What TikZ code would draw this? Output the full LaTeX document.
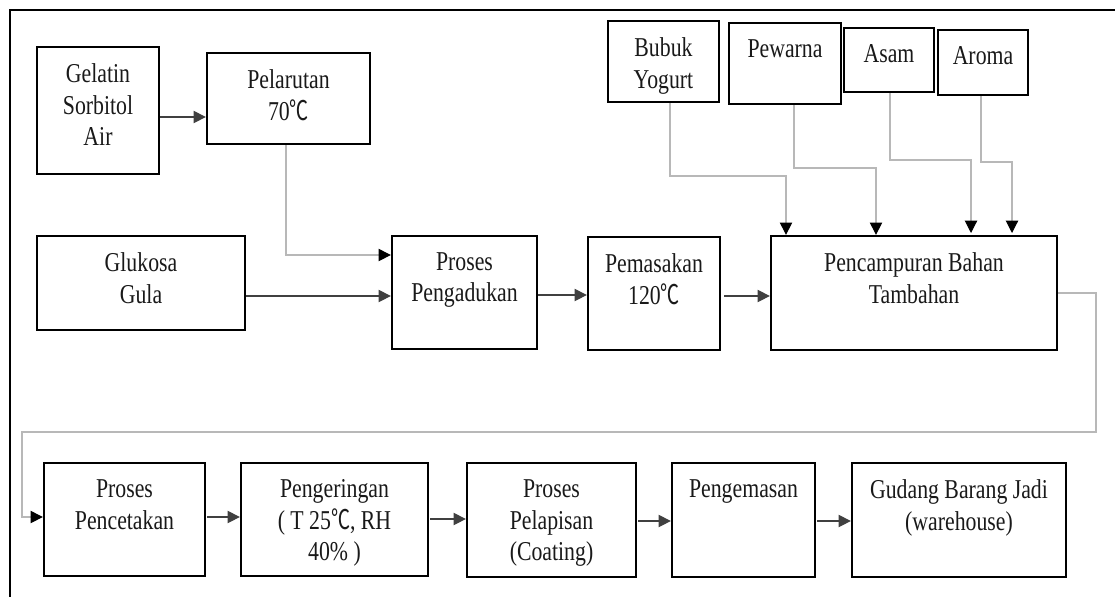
\documentclass[tikz,border=0pt]{standalone}
\usepackage{fontspec}
\newfontfamily\boxfont{Liberation Serif}[FakeStretch=0.8]
\newfontfamily\cjk{Noto Sans CJK SC}[FakeStretch=0.7]
\newcommand{\dc}{{\cjk ℃}}
\usetikzlibrary{positioning,arrows.meta}

\begin{document}
\begin{tikzpicture}[x=0.02cm,y=-0.02cm,node distance=0.35cm,
	blok/.style 2 args={draw,line width=1.3pt,minimum width=#1*0.02cm,minimum height=#2*0.02cm,inner sep=0pt},
	teks/.style={align=center,inner sep=0pt,text=black!90,font=\boxfont\fontsize{15.5}{17.9}\selectfont},
	alur/.style={->,line width=0.7pt,draw=black!75},
	jalur/.style={-{Triangle[length=7pt,width=7pt,black]},line width=0.6pt,draw=black!28}]
		\tikzset{> = {Triangle[length=7pt,width=7pt]}}
		\useasboundingbox (0,0) rectangle (1115,596);
		\draw[line width=1.7pt] (10,600) -- (10,10) -- (1120,10);
		% baris atas
		\node[blok={122}{127}] (gel) at (98,110.5){};
		\node[blok={163}{91}] (plr) at (288.5,98.5){};
		\node[blok={111}{81}] (ygt) at (663.5,61.5){};
		\node[blok={112}{81}] (wrn) at (785,63.5){};
		\node[blok={90}{64}] (asm) at (889,60){};
		\node[blok={90}{65}] (arm) at (983,62.5){};
		\node[teks,below=of gel.north] (gelT){Gelatin\\Sorbitol\\Air};
		\node[teks,below=of plr.north] (plrT){Pelarutan\\70\dc};
		\node[teks,below=of ygt.north] (ygtT){Bubuk\\Yogurt};
		\node[teks,below=of wrn.north] (wrnT){Pewarna};
		\node[teks,below=of asm.north] (asmT){Asam};
		\node[teks,below=of arm.north] (armT){Aroma};
		% baris tengah
		\node[blok={208}{94}] (glu) at (141,283){};
		\node[blok={145}{113}] (adk) at (464.5,292.5){};
		\node[blok={132}{113}] (msk) at (654,293.5){};
		\node[blok={286}{114}] (cmp) at (914,293){};
		\node[teks,below=of glu.north] (gluT){Glukosa\\Gula};
		\node[teks,below=of adk.north] (adkT){Proses\\Pengadukan};
		\node[teks,below=of msk.north] (mskT){Pemasakan\\120\dc};
		\node[teks,below=of cmp.north] (cmpT){Pencampuran Bahan\\Tambahan};
		% baris bawah
		\node[blok={161}{113}] (ctk) at (124.5,519.5){};
		\node[blok={187}{113}] (krg) at (334.5,519.5){};
		\node[blok={169}{114}] (lps) at (551.5,520){};
		\node[blok={143}{114}] (kms) at (743.5,520){};
		\node[blok={214}{114}] (gdg) at (959,520){};
		\node[teks,below=of ctk.north] (ctkT){Proses\\Pencetakan};
		\node[teks,below=of krg.north] (krgT){Pengeringan\\( T 25\dc, RH\\40\% )};
		\node[teks,below=of lps.north] (lpsT){Proses\\Pelapisan\\(Coating)};
		\node[teks,below=of kms.north] (kmsT){Pengemasan};
		\node[teks,below=of gdg.north] (gdgT){Gudang Barang Jadi\\(warehouse)};
		% panah
		\draw[alur] (161,117 -| gel.east) -- (plr.west |- 0,117);
		\draw[jalur] (286,0 |- plr.south) |- (adk.west |- 0,255);
		\draw[alur] (glu.east |- 0,296) -- (adk.west |- 0,296);
		\draw[alur] (adk.east |- 0,295) -- (msk.west |- 0,295);
		\draw[alur] (724,296) -- (cmp.west |- 0,296);
		\draw[jalur] (670,0 |- ygt.south) |- (786,176) -- (786,0 |- cmp.north);
		\draw[jalur] (794,0 |- wrn.south) |- (876,168) -- (876,0 |- cmp.north);
		\draw[jalur] (890,0 |- asm.south) |- (971,160) -- (971,233);
		\draw[jalur] (981,0 |- arm.south) |- (1012,162) -- (1012,233);
		\draw[jalur] (cmp.east) -- (1096,293) |- (22,432) |- (ctk.west |- 0,517);
		\draw[alur] (207,517) -- (krg.west |- 0,517);
		\draw[alur] (430,519) -- (lps.west |- 0,519);
		\draw[alur] (638,521) -- (kms.west |- 0,521);
		\draw[alur] (817,521) -- (gdg.west |- 0,521);
	\end{tikzpicture}
\end{document}
